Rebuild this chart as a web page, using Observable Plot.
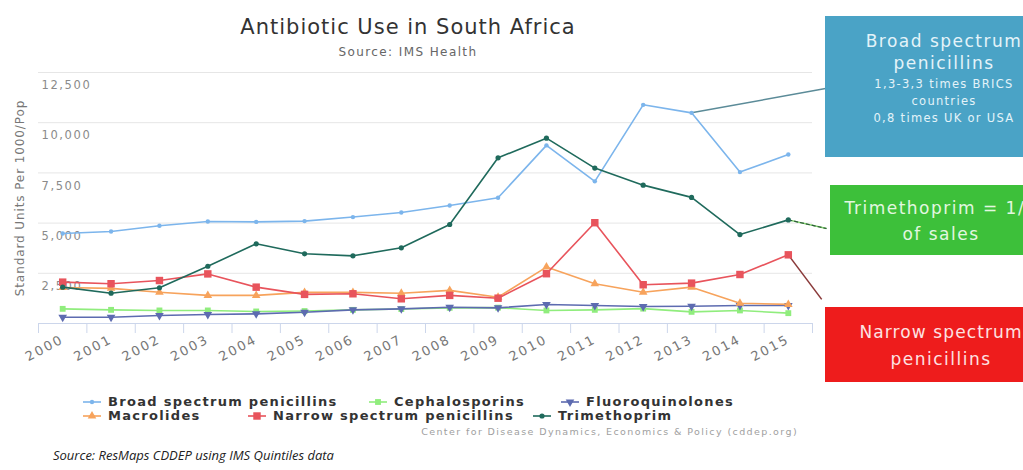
<!DOCTYPE html>
<html><head><meta charset="utf-8">
<script src="https://cdn.jsdelivr.net/npm/d3@7"></script>
<script src="https://cdn.jsdelivr.net/npm/@observablehq/plot@0.6"></script>
<style>
html,body{margin:0;padding:0;background:#fff;overflow:hidden;}
#wrap{position:relative;width:1023px;height:470px;overflow:hidden;font-family:"DejaVu Sans",sans-serif;}
#chart{position:absolute;left:0;top:0;}
.title{position:absolute;left:0;width:816px;text-align:center;top:14px;font-size:21px;line-height:26px;color:#333;letter-spacing:1px;}
.subtitle{position:absolute;left:0;width:816px;text-align:center;top:45px;font-size:12px;line-height:14px;color:#666;letter-spacing:1.4px;}
.leg{position:absolute;display:flex;align-items:center;font-size:13px;font-weight:bold;color:#333;letter-spacing:1.3px;line-height:14px;white-space:nowrap;}
.leg svg{margin-right:6px;}
.credits{position:absolute;right:225px;top:426px;font-size:9.5px;color:#a0a0a0;letter-spacing:1.4px;white-space:nowrap;}
.caption{position:absolute;left:53px;top:446px;font-family:"Open Sans",sans-serif;font-style:italic;font-size:13px;color:#222;letter-spacing:0px;white-space:nowrap;}
.box{position:absolute;text-align:center;font-family:"DejaVu Sans",sans-serif;white-space:nowrap;}
.box .big{font-size:17px;letter-spacing:1.5px;line-height:22px;}
.box .small{font-size:11.5px;letter-spacing:1.3px;line-height:17px;}
#chart g[aria-label="x-axis tick label"] text{letter-spacing:2px;}
#chart g[aria-label="y-axis tick label"] text{letter-spacing:1.6px;}
#chart g[aria-label="text"] text{letter-spacing:0.9px;}
</style>
</head><body>
<div id="wrap">
  <div id="chart"></div>
</div>
<script>
// ---------- data ----------
const years = [2000,2001,2002,2003,2004,2005,2006,2007,2008,2009,2010,2011,2012,2013,2014,2015];
const broadSpectrum = [4480,4580,4870,5080,5060,5100,5300,5530,5880,6260,8870,7080,10890,10490,7540,8420];
const cephalosporins = [730,680,650,650,600,620,680,720,780,790,650,680,740,580,650,515];
const fluoroquinolones = [315,315,400,450,480,560,680,730,810,780,945,895,845,860,895,895];
const macrolides = [1790,1750,1560,1400,1400,1550,1550,1510,1650,1310,2810,1980,1560,1810,1010,950];
const narrowSpectrum = [2060,1980,2140,2470,1810,1450,1480,1230,1400,1260,2480,5020,1930,2010,2440,3420];
const trimethoprim = [1810,1510,1780,2850,3970,3470,3370,3770,4930,8250,9230,7740,6890,6280,4430,5160];
const seriesNames = ["Broad spectrum penicillins","Cephalosporins","Fluoroquinolones","Macrolides","Narrow spectrum penicillins","Trimethoprim"];
const seriesValues = [broadSpectrum,cephalosporins,fluoroquinolones,macrolides,narrowSpectrum,trimethoprim];
const yTicks = [2500,5000,7500,10000,12500];
const titleText = "Antibiotic Use in South Africa";
const subtitleText = "Source: IMS Health";
const yLabel = "Standard Units Per 1000/Pop";
const creditsText = "Center for Disease Dynamics, Economics & Policy (cddep.org)";
const captionText = "Source: ResMaps CDDEP using IMS Quintiles data";
// callouts: from a series' point to the annotation box edge
const calloutSeries = ["Broad spectrum penicillins","Trimethoprim","Narrow spectrum penicillins"];
const calloutYear = [2013,2015,2015];
const calloutToX = [2015.77,2015.79,2015.69];
const calloutToY = [11700,4730,1200];

// ---------- styles ----------
const seriesColors = ["#7cb5ec","#90ed7d","#5d6bb0","#f7a35c","#e8545c","#1f6a5c"];
const triangleDown = {draw(ctx, size){const y = -Math.sqrt(size/(Math.sqrt(3)*3)); ctx.moveTo(0,-y*2); ctx.lineTo(-Math.sqrt(3)*y,y); ctx.lineTo(Math.sqrt(3)*y,y); ctx.closePath();}};
const seriesSymbols = ["circle","square",triangleDown,"triangle","square","circle"];
const markerR = [2.2,3.3,3.2,3.2,4.2,2.6];
const calloutColors = ["#5b8b98","#2e5a3a","#8a3a3a"];

const rows = [];
seriesNames.forEach((s,i)=>years.forEach((yr,j)=>rows.push({series:s, year:yr, value:seriesValues[i][j]})));
const bounds = years.map(y=>y-0.5).concat([years[years.length-1]+0.5]);
const callouts = calloutSeries.map((s,i)=>({series:s, x1:calloutYear[i], y1:seriesValues[seriesNames.indexOf(s)][years.indexOf(calloutYear[i])], x2:calloutToX[i], y2:calloutToY[i], color:calloutColors[i]}));

const marks = [
  Plot.gridY(yTicks, {stroke:"#e6e6e6", strokeOpacity:1}),
  Plot.axisY(yTicks, {tickSize:0, textAnchor:"start", dx:12, dy:13, fontSize:11.5, fill:"#8a8a8a", tickFormat:d3.format(","), label:null}),
  Plot.text([yLabel], {frameAnchor:"left", textAnchor:"middle", rotate:-90, dx:-18, fontSize:12, fill:"#777"}),
  Plot.ruleY([0], {stroke:"#ccd6eb"}),
  Plot.axisX(bounds, {tickSize:10, stroke:"#ccd6eb", tickFormat:()=>"", label:null}),
  Plot.axisX(years, {tickSize:0, tickPadding:15, tickRotate:-28, fontSize:13, fill:"#777", tickFormat:d=>String(d), label:null}),
];
// callout connectors
marks.push(Plot.link(callouts.filter(c=>c.series!=="Trimethoprim"), {x1:"x1", y1:"y1", x2:"x2", y2:"y2", stroke:"color", strokeWidth:1.5}));
marks.push(Plot.link(callouts.filter(c=>c.series==="Trimethoprim"), {x1:"x1", y1:"y1", x2:"x2", y2:"y2", stroke:"#7fd36a", strokeWidth:1.5}));
marks.push(Plot.link(callouts.filter(c=>c.series==="Trimethoprim"), {x1:"x1", y1:"y1", x2:"x2", y2:"y2", stroke:"color", strokeWidth:1.2, strokeDasharray:"4,2"}));
seriesNames.forEach((s,i)=>{
  const d = rows.filter(r=>r.series===s);
  marks.push(Plot.line(d, {x:"year", y:"value", stroke:seriesColors[i], strokeWidth:1.6}));
  marks.push(Plot.dot(d, {x:"year", y:"value", fill:seriesColors[i], symbol:()=>seriesSymbols[i], r:markerR[i]}));
});

const chart = Plot.plot({
  width:1023, height:470,
  marginTop:72, marginBottom:147, marginLeft:38, marginRight:211,
  x:{type:"linear", domain:[1999.5,2015.5]},
  y:{domain:[0,12500]},
  symbol:{type:"identity"},
  style:{fontFamily:"DejaVu Sans, sans-serif", background:"transparent", overflow:"visible"},
  marks
});
document.getElementById("chart").appendChild(chart);

const wrap = document.getElementById("wrap");
function addDiv(cls, html, style){const d=document.createElement("div"); d.className=cls; d.innerHTML=html; if(style) Object.assign(d.style, style); wrap.appendChild(d); return d;}
addDiv("title", titleText);
addDiv("subtitle", subtitleText);

// legend
const legendPos = [[82,395],[368,395],[560,395],[82,409],[247,409],[532,409]];
seriesNames.forEach((name,i)=>{
  const d = addDiv("leg", "", {left:legendPos[i][0]+"px", top:legendPos[i][1]+"px"});
  const svg = d3.create("svg").attr("width",20).attr("height",12);
  svg.append("line").attr("x1",1).attr("x2",19).attr("y1",6).attr("y2",6).attr("stroke",seriesColors[i]).attr("stroke-width",1.6);
  const sym = typeof seriesSymbols[i]==="string" ? ({circle:d3.symbolCircle,square:d3.symbolSquare,triangle:d3.symbolTriangle})[seriesSymbols[i]] : seriesSymbols[i];
  svg.append("path").attr("d", d3.symbol(sym, Math.PI*markerR[i]*markerR[i])()).attr("transform","translate(10,6)").attr("fill",seriesColors[i]);
  d.appendChild(svg.node());
  const t=document.createElement("span"); t.textContent=name; d.appendChild(t);
});
addDiv("credits", creditsText.replace("&","&amp;"));
addDiv("caption", captionText);

// annotation boxes
addDiv("box", '<div class="big" style="margin-top:14px">Broad spectrum</div><div class="big">penicillins</div><div class="small" style="margin-top:2px">1,3-3,3 times BRICS</div><div class="small">countries</div><div class="small">0,8 times UK or USA</div>',
  {left:"825px", top:"16px", width:"238px", height:"141px", background:"#4aa3c6", color:"#e4f3f9"});
addDiv("box", '<div class="big" style="margin-top:10px;line-height:26px">Trimethoprim = 1/3</div><div class="big" style="line-height:26px">of sales</div>',
  {left:"830px", top:"185px", width:"222px", height:"70px", background:"#3dc03a", color:"#e2f7e0"});
addDiv("box", '<div class="big" style="margin-top:12px;line-height:27px;letter-spacing:1.1px">Narrow spectrum</div><div class="big" style="line-height:27px">penicillins</div>',
  {left:"825px", top:"307px", width:"232px", height:"75px", background:"#ee1c1c", color:"#fde2e2"});
</script>
</body></html>
